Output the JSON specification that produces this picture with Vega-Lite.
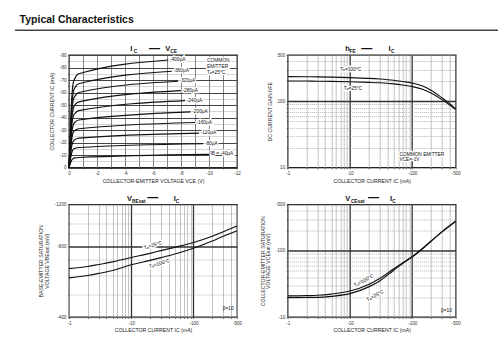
{
"$schema": "https://vega.github.io/schema/vega-lite/v6.json",
"background": "white",
"padding": {"left": 13, "top": 15, "right": 4, "bottom": 4},
"title": {"text": "Typical Characteristics", "anchor": "start", "frame": "bounds", "font": "Liberation Sans", "fontSize": 10.5, "fontWeight": "bold", "color": "#111", "dx": 6, "offset": 3},
"columns": 2,
"bounds": "flush",
"spacing": {"row": 36.5, "column": 50.7},
"datasets": {
"p1_labels": [
{"vce": 7.2, "ic": 86, "label": "-400µA"},
{"vce": 7.45, "ic": 77, "label": "-360µA"},
{"vce": 7.9, "ic": 69, "label": "-320µA"},
{"vce": 8.1, "ic": 61.5, "label": "-280µA"},
{"vce": 8.4, "ic": 53.5, "label": "-240µA"},
{"vce": 8.8, "ic": 44.5, "label": "-200µA"},
{"vce": 9.1, "ic": 36, "label": "-160µA"},
{"vce": 9.4, "ic": 27.5, "label": "-120µA"},
{"vce": 9.7, "ic": 19, "label": "-80µA"},
{"vce": 10.1, "ic": 10.5, "label": "IB = -40µA"},
{"vce": 9.86, "ic": 85.2, "label": "COMMON"},
{"vce": 9.86, "ic": 80.6, "label": "EMITTER"},
{"vce": 9.86, "ic": 75.8, "label": "Tₐ=25°C"}
],
"p2_notes": [
{"ic": 6.97, "hfe": 294, "label": "Tₐ=100°C"},
{"ic": 7.98, "hfe": 155.5, "label": "Tₐ=25°C"},
{"ic": 62.4, "hfe": 15.4, "label": "COMMON EMITTER"},
{"ic": 62.4, "hfe": 13.06, "label": "VCE=-1V"}
],
"p3_notes": [
{"ic": 22.1, "vbe": 809, "label": "Tₐ=25°C"},
{"ic": 28.2, "vbe": 677, "label": "Tₐ=100°C"}
],
"p4_notes": [
{"ic": 16.5, "vcesat": 35.9, "label": "Tₐ=100°C"},
{"ic": 25.1, "vcesat": 21.3, "label": "Tₐ=25°C"}
]
},
"concat": [
{
"width": 168, "height": 112.5,
"encoding": {
"x": {"field": "vce", "type": "quantitative", "scale": {"domain": [0, 12], "nice": false, "zero": false},
"axis": {"title": "COLLECTOR-EMITTER VOLTAGE    VCE   (V)", "values": [0,1,2,3,4,5,6,7,8,9,10,11,12],
"labelExpr": "datum.value % 2 == 0 ? (datum.value == 0 ? '0' : '-' + datum.value) : ''",
"gridColor": "#666", "gridWidth": 0.8}},
"y": {"field": "ic", "type": "quantitative", "scale": {"domain": [0, 90], "nice": false, "zero": false},
"axis": {"title": "COLLECTOR CURRENT    IC    (mA)", "values": [0,5,10,15,20,25,30,35,40,45,50,55,60,65,70,75,80,85,90],
"labelExpr": "datum.value % 10 == 0 ? (datum.value == 0 ? '0' : '-' + datum.value) : ''",
"gridColor": {"condition": {"test": "datum.value % 10 != 0", "value": "#888"}, "value": "#444"},
"gridDash": {"condition": {"test": "datum.value % 10 != 0", "value": [1, 1]}, "value": []},
"gridWidth": {"condition": {"test": "datum.value % 10 != 0", "value": 0.7}, "value": 1}}}
},
"layer": [
{"data": {"values": [{"vce": -3.857, "vce_end": 30.64, "ic": 109.85}]},
"mark": {"type": "rule", "color": "#444", "strokeWidth": 1.5},
"encoding": {"x2": {"field": "vce_end"}}},
{"data": {"values": [
{"ib": "-400µA", "vce": 0, "ic": 0}, {"ib": "-400µA", "vce": 0.1, "ic": 30}, {"ib": "-400µA", "vce": 0.2, "ic": 56}, {"ib": "-400µA", "vce": 0.3, "ic": 67.5}, {"ib": "-400µA", "vce": 0.45, "ic": 72}, {"ib": "-400µA", "vce": 0.7, "ic": 75}, {"ib": "-400µA", "vce": 7.1, "ic": 86},
{"ib": "-360µA", "vce": 0, "ic": 0}, {"ib": "-360µA", "vce": 0.1, "ic": 27}, {"ib": "-360µA", "vce": 0.2, "ic": 50}, {"ib": "-360µA", "vce": 0.3, "ic": 60}, {"ib": "-360µA", "vce": 0.45, "ic": 64.5}, {"ib": "-360µA", "vce": 0.7, "ic": 67}, {"ib": "-360µA", "vce": 7.35, "ic": 77},
{"ib": "-320µA", "vce": 0, "ic": 0}, {"ib": "-320µA", "vce": 0.1, "ic": 24}, {"ib": "-320µA", "vce": 0.2, "ic": 45}, {"ib": "-320µA", "vce": 0.3, "ic": 54}, {"ib": "-320µA", "vce": 0.45, "ic": 57.5}, {"ib": "-320µA", "vce": 0.7, "ic": 60}, {"ib": "-320µA", "vce": 7.8, "ic": 69},
{"ib": "-280µA", "vce": 0, "ic": 0}, {"ib": "-280µA", "vce": 0.1, "ic": 21}, {"ib": "-280µA", "vce": 0.2, "ic": 39.5}, {"ib": "-280µA", "vce": 0.3, "ic": 47}, {"ib": "-280µA", "vce": 0.45, "ic": 50.5}, {"ib": "-280µA", "vce": 0.7, "ic": 52.5}, {"ib": "-280µA", "vce": 8.0, "ic": 61.5},
{"ib": "-240µA", "vce": 0, "ic": 0}, {"ib": "-240µA", "vce": 0.1, "ic": 18}, {"ib": "-240µA", "vce": 0.2, "ic": 34}, {"ib": "-240µA", "vce": 0.3, "ic": 41}, {"ib": "-240µA", "vce": 0.45, "ic": 43.5}, {"ib": "-240µA", "vce": 0.7, "ic": 45.5}, {"ib": "-240µA", "vce": 8.3, "ic": 53.5},
{"ib": "-200µA", "vce": 0, "ic": 0}, {"ib": "-200µA", "vce": 0.1, "ic": 15}, {"ib": "-200µA", "vce": 0.2, "ic": 28.5}, {"ib": "-200µA", "vce": 0.3, "ic": 34}, {"ib": "-200µA", "vce": 0.45, "ic": 36.5}, {"ib": "-200µA", "vce": 0.7, "ic": 38}, {"ib": "-200µA", "vce": 8.7, "ic": 44.5},
{"ib": "-160µA", "vce": 0, "ic": 0}, {"ib": "-160µA", "vce": 0.1, "ic": 12.5}, {"ib": "-160µA", "vce": 0.2, "ic": 23}, {"ib": "-160µA", "vce": 0.3, "ic": 28}, {"ib": "-160µA", "vce": 0.45, "ic": 29.8}, {"ib": "-160µA", "vce": 0.7, "ic": 31}, {"ib": "-160µA", "vce": 9.0, "ic": 36},
{"ib": "-120µA", "vce": 0, "ic": 0}, {"ib": "-120µA", "vce": 0.1, "ic": 9.5}, {"ib": "-120µA", "vce": 0.2, "ic": 17.5}, {"ib": "-120µA", "vce": 0.3, "ic": 21}, {"ib": "-120µA", "vce": 0.45, "ic": 22.5}, {"ib": "-120µA", "vce": 0.7, "ic": 23.5}, {"ib": "-120µA", "vce": 9.3, "ic": 27.5},
{"ib": "-80µA", "vce": 0, "ic": 0}, {"ib": "-80µA", "vce": 0.1, "ic": 6.5}, {"ib": "-80µA", "vce": 0.2, "ic": 12}, {"ib": "-80µA", "vce": 0.3, "ic": 14.5}, {"ib": "-80µA", "vce": 0.45, "ic": 15.4}, {"ib": "-80µA", "vce": 0.7, "ic": 16}, {"ib": "-80µA", "vce": 9.6, "ic": 19},
{"ib": "-40µA", "vce": 0, "ic": 0}, {"ib": "-40µA", "vce": 0.1, "ic": 3.2}, {"ib": "-40µA", "vce": 0.2, "ic": 6}, {"ib": "-40µA", "vce": 0.3, "ic": 7.2}, {"ib": "-40µA", "vce": 0.45, "ic": 7.7}, {"ib": "-40µA", "vce": 0.7, "ic": 8}, {"ib": "-40µA", "vce": 10.0, "ic": 10.5}
]},
"mark": {"type": "line", "color": "#111", "strokeWidth": 1.2, "interpolate": "monotone"},
"encoding": {"detail": {"field": "ib"}}},
{"data": {"name": "p1_labels"}, "mark": {"type": "text", "align": "left", "baseline": "middle", "fontSize": 4.8, "fill": "white", "stroke": "white", "strokeWidth": 2.5}, "encoding": {"text": {"field": "label"}}},
{"data": {"name": "p1_labels"}, "mark": {"type": "text", "align": "left", "baseline": "middle", "fontSize": 4.8, "color": "#111"}, "encoding": {"text": {"field": "label"}}},
{"data": {"values": [{"vce": 4.38, "ic": 90, "t": "I"}, {"vce": 6.88, "ic": 90, "t": "V"}]}, "mark": {"type": "text", "align": "left", "baseline": "alphabetic", "fontSize": 7.5, "fontWeight": "bold", "dy": -4, "color": "#111"}, "encoding": {"text": {"field": "t"}}},
{"data": {"values": [{"vce": 4.62, "ic": 90, "t": "C"}, {"vce": 7.24, "ic": 90, "t": "CE"}]}, "mark": {"type": "text", "align": "left", "baseline": "alphabetic", "fontSize": 4.8, "fontWeight": "bold", "dy": -2, "color": "#111"}, "encoding": {"text": {"field": "t"}}},
{"data": {"values": [{"vce": 5.71, "ic": 90, "t": "—"}]}, "mark": {"type": "text", "align": "left", "baseline": "alphabetic", "fontSize": 11, "fontWeight": "bold", "dy": -3.2, "color": "#111"}, "encoding": {"text": {"field": "t"}}}
]
},
{
"width": 168, "height": 112.5,
"encoding": {
"x": {"field": "ic", "type": "quantitative", "scale": {"type": "log", "domain": [1, 500], "nice": false},
"axis": {"title": "COLLECTOR CURRENT    IC    (mA)", "values": [1,2,3,4,5,6,7,8,9,10,20,30,40,50,60,70,80,90,100,200,300,400,500],
"labelExpr": "(datum.value == 1 || datum.value == 10 || datum.value == 100 || datum.value == 500) ? '-' + datum.value : ''",
"gridColor": {"condition": {"test": "datum.value == 10 || datum.value == 100", "value": "#333"}, "value": "#aaa"},
"gridWidth": {"condition": {"test": "datum.value == 10 || datum.value == 100", "value": 1.3}, "value": 0.7}}},
"y": {"field": "hfe", "type": "quantitative", "scale": {"type": "log", "domain": [10, 500], "nice": false},
"axis": {"title": "DC CURRENT GAIN    hFE", "values": [10,20,30,40,50,60,70,80,90,100,200,300,400,500],
"labelExpr": "(datum.value == 10 || datum.value == 100 || datum.value == 500) ? '' + datum.value : ''",
"gridColor": {"condition": {"test": "datum.value == 100", "value": "#333"}, "value": "#999"},
"gridDash": {"condition": {"test": "datum.value == 100", "value": []}, "value": [1, 1]},
"gridWidth": {"condition": {"test": "datum.value == 100", "value": 1.3}, "value": 0.7}}}
},
"layer": [
{"data": {"values": [
{"ta": "100°C", "ic": 1, "hfe": 236}, {"ta": "100°C", "ic": 2, "hfe": 235}, {"ta": "100°C", "ic": 3, "hfe": 234}, {"ta": "100°C", "ic": 5, "hfe": 232}, {"ta": "100°C", "ic": 10, "hfe": 228}, {"ta": "100°C", "ic": 20, "hfe": 222}, {"ta": "100°C", "ic": 30, "hfe": 217}, {"ta": "100°C", "ic": 50, "hfe": 208}, {"ta": "100°C", "ic": 70, "hfe": 199}, {"ta": "100°C", "ic": 100, "hfe": 189}, {"ta": "100°C", "ic": 150, "hfe": 168}, {"ta": "100°C", "ic": 200, "hfe": 147}, {"ta": "100°C", "ic": 300, "hfe": 113}, {"ta": "100°C", "ic": 400, "hfe": 92}, {"ta": "100°C", "ic": 500, "hfe": 77},
{"ta": "25°C", "ic": 1, "hfe": 203}, {"ta": "25°C", "ic": 2, "hfe": 202}, {"ta": "25°C", "ic": 3, "hfe": 201}, {"ta": "25°C", "ic": 5, "hfe": 200}, {"ta": "25°C", "ic": 10, "hfe": 197}, {"ta": "25°C", "ic": 20, "hfe": 193}, {"ta": "25°C", "ic": 30, "hfe": 190}, {"ta": "25°C", "ic": 50, "hfe": 183}, {"ta": "25°C", "ic": 70, "hfe": 176}, {"ta": "25°C", "ic": 100, "hfe": 167}, {"ta": "25°C", "ic": 150, "hfe": 151}, {"ta": "25°C", "ic": 200, "hfe": 133}, {"ta": "25°C", "ic": 300, "hfe": 106}, {"ta": "25°C", "ic": 400, "hfe": 88}, {"ta": "25°C", "ic": 500, "hfe": 75}
]},
"mark": {"type": "line", "color": "#111", "strokeWidth": 1.1, "interpolate": "monotone"},
"encoding": {"detail": {"field": "ta"}}},
{"data": {"name": "p2_notes"}, "mark": {"type": "text", "align": "left", "baseline": "middle", "fontSize": 4.8, "fill": "white", "stroke": "white", "strokeWidth": 2.5}, "encoding": {"text": {"field": "label"}}},
{"data": {"name": "p2_notes"}, "mark": {"type": "text", "align": "left", "baseline": "middle", "fontSize": 4.8, "color": "#111"}, "encoding": {"text": {"field": "label"}}},
{"data": {"values": [{"ic": 8.38, "hfe": 500, "t": "h"}, {"ic": 41.6, "hfe": 500, "t": "I"}]}, "mark": {"type": "text", "align": "left", "baseline": "alphabetic", "fontSize": 7.5, "fontWeight": "bold", "dy": -4, "color": "#111"}, "encoding": {"text": {"field": "t"}}},
{"data": {"values": [{"ic": 9.85, "hfe": 500, "t": "FE"}, {"ic": 45.5, "hfe": 500, "t": "C"}]}, "mark": {"type": "text", "align": "left", "baseline": "alphabetic", "fontSize": 4.8, "fontWeight": "bold", "dy": -2, "color": "#111"}, "encoding": {"text": {"field": "t"}}},
{"data": {"values": [{"ic": 15.2, "hfe": 500, "t": "—"}]}, "mark": {"type": "text", "align": "left", "baseline": "alphabetic", "fontSize": 11, "fontWeight": "bold", "dy": -3.2, "color": "#111"}, "encoding": {"text": {"field": "t"}}}
]
},
{
"width": 168, "height": 112.5,
"encoding": {
"x": {"field": "ic", "type": "quantitative", "scale": {"type": "log", "domain": [1, 500], "nice": false},
"axis": {"title": "COLLECTOR CURRENT    IC    (mA)", "values": [1,2,3,4,5,6,7,8,9,10,20,30,40,50,60,70,80,90,100,200,300,400,500],
"labelExpr": "(datum.value == 1 || datum.value == 10 || datum.value == 100 || datum.value == 500) ? '-' + datum.value : ''",
"gridColor": {"condition": {"test": "datum.value == 10 || datum.value == 100", "value": "#333"}, "value": "#aaa"},
"gridWidth": {"condition": {"test": "datum.value == 10 || datum.value == 100", "value": 1.3}, "value": 0.7}}},
"y": {"field": "vbe", "type": "quantitative", "scale": {"type": "log", "domain": [400, 1200], "nice": false},
"axis": {"title": ["BASE-EMITTER SATURATION", "VOLTAGE    VBEsat    (mV)"], "values": [400,500,600,700,800,900,1000,1100,1200],
"labelExpr": "(datum.value == 400 || datum.value == 800 || datum.value == 1200) ? '-' + datum.value : ''",
"gridColor": {"condition": {"test": "datum.value == 800", "value": "#333"}, "value": "#999"},
"gridDash": {"condition": {"test": "datum.value == 800", "value": []}, "value": [1, 1]},
"gridWidth": {"condition": {"test": "datum.value == 800", "value": 1.3}, "value": 0.7}}}
},
"layer": [
{"data": {"values": [
{"ta": "25°C", "ic": 1, "vbe": 641}, {"ta": "25°C", "ic": 2, "vbe": 655}, {"ta": "25°C", "ic": 3, "vbe": 668}, {"ta": "25°C", "ic": 5, "vbe": 685}, {"ta": "25°C", "ic": 10, "vbe": 715}, {"ta": "25°C", "ic": 20, "vbe": 745}, {"ta": "25°C", "ic": 30, "vbe": 765}, {"ta": "25°C", "ic": 50, "vbe": 790}, {"ta": "25°C", "ic": 100, "vbe": 828}, {"ta": "25°C", "ic": 200, "vbe": 880}, {"ta": "25°C", "ic": 300, "vbe": 920}, {"ta": "25°C", "ic": 500, "vbe": 973},
{"ta": "100°C", "ic": 1, "vbe": 586}, {"ta": "100°C", "ic": 2, "vbe": 600}, {"ta": "100°C", "ic": 3, "vbe": 612}, {"ta": "100°C", "ic": 5, "vbe": 630}, {"ta": "100°C", "ic": 10, "vbe": 666}, {"ta": "100°C", "ic": 20, "vbe": 695}, {"ta": "100°C", "ic": 30, "vbe": 714}, {"ta": "100°C", "ic": 50, "vbe": 740}, {"ta": "100°C", "ic": 100, "vbe": 783}, {"ta": "100°C", "ic": 200, "vbe": 840}, {"ta": "100°C", "ic": 300, "vbe": 880}, {"ta": "100°C", "ic": 500, "vbe": 927}
]},
"mark": {"type": "line", "color": "#111", "strokeWidth": 1.2, "interpolate": "monotone"},
"encoding": {"detail": {"field": "ta"}}},
{"data": {"name": "p3_notes"}, "mark": {"type": "text", "align": "center", "baseline": "middle", "angle": -17, "fontSize": 5, "fill": "white", "stroke": "white", "strokeWidth": 2.5}, "encoding": {"text": {"field": "label"}}},
{"data": {"name": "p3_notes"}, "mark": {"type": "text", "align": "center", "baseline": "middle", "angle": -17, "fontSize": 5, "color": "#000"}, "encoding": {"text": {"field": "label"}}},
{"data": {"values": [{"ic": 294.5, "vbe": 431, "label": "β=10"}]}, "mark": {"type": "text", "align": "left", "baseline": "middle", "fontSize": 4.8, "color": "#111"}, "encoding": {"text": {"field": "label"}}},
{"data": {"values": [{"ic": 8.55, "vbe": 1200, "t": "V"}, {"ic": 48.1, "vbe": 1200, "t": "I"}]}, "mark": {"type": "text", "align": "left", "baseline": "alphabetic", "fontSize": 7.5, "fontWeight": "bold", "dy": -4, "color": "#111"}, "encoding": {"text": {"field": "t"}}},
{"data": {"values": [{"ic": 10.28, "vbe": 1200, "t": "BEsat"}, {"ic": 52.0, "vbe": 1200, "t": "C"}]}, "mark": {"type": "text", "align": "left", "baseline": "alphabetic", "fontSize": 4.8, "fontWeight": "bold", "dy": -2, "color": "#111"}, "encoding": {"text": {"field": "t"}}},
{"data": {"values": [{"ic": 18.0, "vbe": 1200, "t": "—"}]}, "mark": {"type": "text", "align": "left", "baseline": "alphabetic", "fontSize": 11, "fontWeight": "bold", "dy": -3.2, "color": "#111"}, "encoding": {"text": {"field": "t"}}}
]
},
{
"width": 168, "height": 112.5,
"encoding": {
"x": {"field": "ic", "type": "quantitative", "scale": {"type": "log", "domain": [1, 500], "nice": false},
"axis": {"title": "COLLECTOR CURRENT    IC    (mA)", "values": [1,2,3,4,5,6,7,8,9,10,20,30,40,50,60,70,80,90,100,200,300,400,500],
"labelExpr": "(datum.value == 1 || datum.value == 10 || datum.value == 100 || datum.value == 500) ? '-' + datum.value : ''",
"gridColor": {"condition": {"test": "datum.value == 10 || datum.value == 100", "value": "#333"}, "value": "#aaa"},
"gridWidth": {"condition": {"test": "datum.value == 10 || datum.value == 100", "value": 1.3}, "value": 0.7}}},
"y": {"field": "vcesat", "type": "quantitative", "scale": {"type": "log", "domain": [10, 500], "nice": false},
"axis": {"title": ["COLLECTOR-EMITTER SATURATION", "VOLTAGE    VCEsat    (mV)"], "values": [10,20,30,40,50,60,70,80,90,100,200,300,400,500],
"labelExpr": "(datum.value == 10 || datum.value == 100 || datum.value == 500) ? '-' + datum.value : ''",
"gridColor": {"condition": {"test": "datum.value == 100", "value": "#333"}, "value": "#999"},
"gridDash": {"condition": {"test": "datum.value == 100", "value": []}, "value": [1, 1]},
"gridWidth": {"condition": {"test": "datum.value == 100", "value": 1.3}, "value": 0.7}}}
},
"layer": [
{"data": {"values": [
{"ta": "100°C", "ic": 1, "vcesat": 20.8}, {"ta": "100°C", "ic": 2, "vcesat": 21}, {"ta": "100°C", "ic": 3, "vcesat": 21.3}, {"ta": "100°C", "ic": 5, "vcesat": 22.2}, {"ta": "100°C", "ic": 10, "vcesat": 24.7}, {"ta": "100°C", "ic": 20, "vcesat": 31}, {"ta": "100°C", "ic": 30, "vcesat": 38}, {"ta": "100°C", "ic": 50, "vcesat": 53}, {"ta": "100°C", "ic": 70, "vcesat": 65.5}, {"ta": "100°C", "ic": 100, "vcesat": 81}, {"ta": "100°C", "ic": 200, "vcesat": 139}, {"ta": "100°C", "ic": 300, "vcesat": 193}, {"ta": "100°C", "ic": 500, "vcesat": 280},
{"ta": "25°C", "ic": 1, "vcesat": 19.6}, {"ta": "25°C", "ic": 2, "vcesat": 19.7}, {"ta": "25°C", "ic": 3, "vcesat": 19.8}, {"ta": "25°C", "ic": 5, "vcesat": 20.5}, {"ta": "25°C", "ic": 10, "vcesat": 22.5}, {"ta": "25°C", "ic": 20, "vcesat": 28.5}, {"ta": "25°C", "ic": 30, "vcesat": 35}, {"ta": "25°C", "ic": 50, "vcesat": 50.5}, {"ta": "25°C", "ic": 70, "vcesat": 64.5}, {"ta": "25°C", "ic": 100, "vcesat": 81}, {"ta": "25°C", "ic": 200, "vcesat": 139}, {"ta": "25°C", "ic": 300, "vcesat": 193}, {"ta": "25°C", "ic": 500, "vcesat": 280}
]},
"mark": {"type": "line", "color": "#111", "strokeWidth": 1.2, "interpolate": "monotone"},
"encoding": {"detail": {"field": "ta"}}},
{"data": {"name": "p4_notes"}, "mark": {"type": "text", "align": "center", "baseline": "middle", "angle": -28, "fontSize": 5, "fill": "white", "stroke": "white", "strokeWidth": 2.5}, "encoding": {"text": {"field": "label"}}},
{"data": {"name": "p4_notes"}, "mark": {"type": "text", "align": "center", "baseline": "middle", "angle": -28, "fontSize": 5, "color": "#000"}, "encoding": {"text": {"field": "label"}}},
{"data": {"values": [{"ic": 290, "vcesat": 12.2, "label": "β=10"}]}, "mark": {"type": "text", "align": "left", "baseline": "middle", "fontSize": 4.8, "color": "#111"}, "encoding": {"text": {"field": "label"}}},
{"data": {"values": [{"ic": 8.39, "vcesat": 500, "t": "V"}, {"ic": 44.2, "vcesat": 500, "t": "I"}]}, "mark": {"type": "text", "align": "left", "baseline": "alphabetic", "fontSize": 7.5, "fontWeight": "bold", "dy": -4, "color": "#111"}, "encoding": {"text": {"field": "t"}}},
{"data": {"values": [{"ic": 10.35, "vcesat": 500, "t": "CEsat"}, {"ic": 48.0, "vcesat": 500, "t": "C"}]}, "mark": {"type": "text", "align": "left", "baseline": "alphabetic", "fontSize": 4.8, "fontWeight": "bold", "dy": -2, "color": "#111"}, "encoding": {"text": {"field": "t"}}},
{"data": {"values": [{"ic": 19.5, "vcesat": 500, "t": "—"}]}, "mark": {"type": "text", "align": "left", "baseline": "alphabetic", "fontSize": 11, "fontWeight": "bold", "dy": -3.2, "color": "#111"}, "encoding": {"text": {"field": "t"}}}
]
}
],
"config": {
"font": "Liberation Sans",
"view": {"stroke": "#222", "strokeWidth": 1.3},
"axis": {
"domain": false,
"labelFont": "Liberation Sans", "labelFontSize": 4.6, "labelColor": "#333", "labelPadding": 1.5, "labelFlush": false, "labelOverlap": false, "labelBound": false,
"tickColor": "#333", "tickSize": 1.5, "tickWidth": 0.6,
"titleFont": "Liberation Sans", "titleFontSize": 5.2, "titleFontWeight": "normal", "titleColor": "#222", "titlePadding": 3, "titleLineHeight": 5.5
},
"axisY": {"titlePadding": 5},
"text": {"font": "Liberation Sans"}
}
}
